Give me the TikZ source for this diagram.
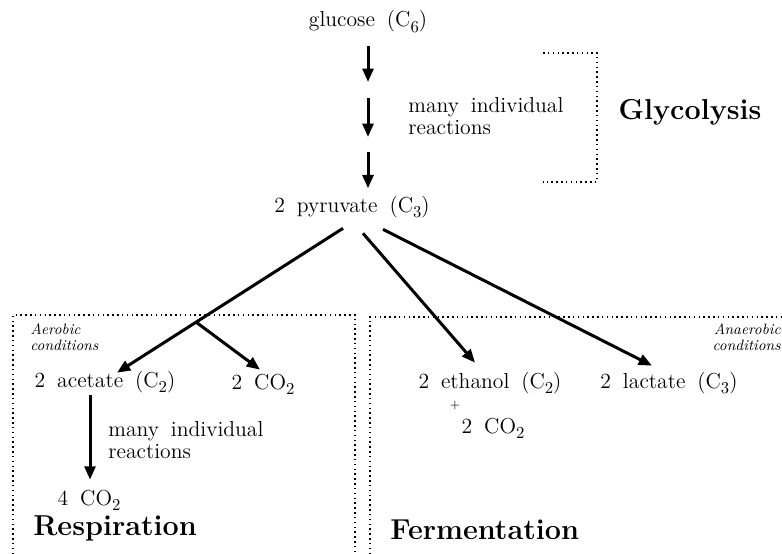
\documentclass[tikz,border=0pt]{standalone}
\usepackage{amsmath}
\usetikzlibrary{arrows.meta, calc}

\newcommand{\subsc}[1]{\raisebox{-.6ex}{\normalsize #1}}

\begin{document}
\begin{tikzpicture}[
	x=0.6pt, y=-0.6pt,
	font={\fontsize{13}{13.5}\selectfont\spaceskip=.55em\relax},
	chem/.style={inner sep=0pt, text height=9pt, text depth=3pt},
	note/.style={inner sep=0pt, align=left, anchor=west},
	cond/.style={inner sep=0pt, font=\fontsize{9}{10}\selectfont\itshape},
	title/.style={inner sep=0pt, font=\LARGE\bfseries, anchor=west},
	arr/.style={-{Triangle[length=8pt, width=6.5pt]}, line width=1.8pt},
	frame/.style={dotted, line width=0.9pt}
	]
	\useasboundingbox (0,0) rectangle (782,554);
	
	% glycolysis
	\node[chem] (glucose) at (368,22) {glucose (C\subsc{6})};
	\node[chem] (pyruvate) at (352,207) {2 pyruvate (C\subsc{3})};
	\coordinate (g1) at (368,82);
	\coordinate (g2) at (368,98);
	\coordinate (g3) at (368,137);
	\coordinate (g4) at (368,152);
	
	\draw[arr, shorten <=8pt] (glucose) -- (g1);
	\draw[arr] (g2) -- (g3);
	\draw[arr, shorten >=5pt] (g4) -- (g4 |- pyruvate.north);
	
	\node[note] (many1) at (408,116) {many individual\\reactions};
	\draw[frame] (543,53) -- (597,53) -- (597,182) -- (543,182);
	\node[title, anchor=center] (glyco) at (690,112) {Glycolysis};
	
	% products
	\node[chem] (acetate) at (105,382) {2 acetate (C\subsc{2})};
	\node[chem] (co2a) at (263,384) {2 CO\subsc{2}};
	\node[chem] (ethanol) at (490,383) {2 ethanol (C\subsc{2})};
	\node[chem] (lactate) at (669,383) {2 lactate (C\subsc{3})};
	\node[font=\scriptsize, inner sep=0pt] (plus) at (455,406) {+};
	\node[chem] (co2c) at (493,428) {2 CO\subsc{2}};
	\node[chem] (co2b) at (89,500) {4 CO\subsc{2}};
	\node[note] (many2) at (108,440) {many individual\\reactions};
	
	\draw[arr] ([shift={(-9,11)}]pyruvate.south) -- coordinate[pos=0.65] (fork) ([shift={(12,1)}]acetate.north);
	\draw[arr] (fork) -- ([shift={(-3,-4)}]co2a.north);
	\draw[arr] ([shift={(11,16)}]pyruvate.south) -- ([shift={(-15,-10)}]ethanol.north);
	\draw[arr] ([shift={(31,12)}]pyruvate.south) -- ([shift={(-17,-7)}]lactate.north);
	\draw[arr] ([shift={(-15,3)}]acetate.south) -- ([shift={(1,-10)}]co2b.north);
	
	% conditions
	\draw[frame] (13,554) -- (13,315) -- (355,315) -- (355,554);
	\draw[frame] (370,554) -- (370,317) -- (782,317);
	\node[cond, anchor=north west, align=left] (aerobic) at (30,323) {Aerobic\\conditions};
	\node[cond, anchor=north east, align=right] (anaerobic) at (781,323) {Anaerobic\\conditions};
	\node[title] (resp) at (33,528) {Respiration};
	\node[title] (ferm) at (390,530) {Fermentation};
	
\end{tikzpicture}
\end{document}
